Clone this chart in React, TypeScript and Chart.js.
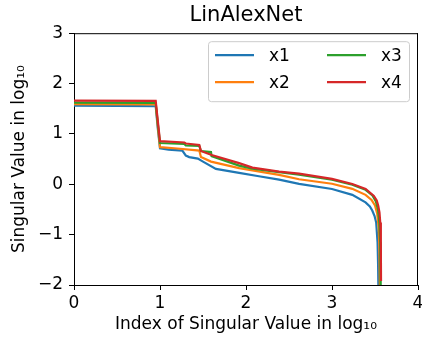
import React, { useEffect, useRef } from "react";
import { Chart, registerables } from "chart.js";

Chart.register(...registerables);

const chartTitle = "LinAlexNet";
const xAxisTitle = "Index of Singular Value in log\u2081\u2080";
const yAxisTitle = "Singular Value in log\u2081\u2080";
const seriesLabels = ["x1", "x2", "x3", "x4"];
const seriesColors = ["#1f77b4", "#ff7f0e", "#2ca02c", "#d62728"];

const x1X = [0, 0.5, 0.95, 0.975, 1.0, 1.1, 1.26, 1.3, 1.34, 1.44, 1.5, 1.65, 1.92, 2.15, 2.385, 2.617, 3.0, 3.236, 3.39, 3.44, 3.468, 3.495, 3.514, 3.53, 3.536, 3.54];
const x1Y = [1.56, 1.555, 1.55, 1.1, 0.717, 0.69, 0.67, 0.57, 0.54, 0.51, 0.45, 0.305, 0.226, 0.16, 0.093, 0.007, -0.093, -0.21, -0.36, -0.44, -0.52, -0.63, -0.76, -1.16, -1.6, -2.1];

const x2X = [0, 0.95, 0.975, 1.0, 1.2, 1.457, 1.476, 1.593, 1.92, 2.385, 2.617, 3.0, 3.236, 3.39, 3.46, 3.5, 3.525, 3.542, 3.55, 3.555, 3.558];
const x2Y = [1.59, 1.585, 1.15, 0.737, 0.71, 0.67, 0.54, 0.45, 0.32, 0.186, 0.1, 0.01, -0.09, -0.21, -0.31, -0.42, -0.58, -0.85, -1.2, -1.6, -2.05];

const x3X = [0, 0.95, 0.975, 1.0, 1.283, 1.3, 1.457, 1.476, 1.593, 1.6, 1.92, 2.075, 2.385, 2.617, 3.0, 3.236, 3.39, 3.47, 3.51, 3.535, 3.55, 3.56, 3.565, 3.567];
const x3Y = [1.62, 1.615, 1.2, 0.82, 0.8, 0.77, 0.76, 0.66, 0.64, 0.56, 0.37, 0.31, 0.24, 0.19, 0.09, -0.01, -0.11, -0.22, -0.34, -0.5, -0.75, -1.15, -1.6, -2.0];

const x4X = [0, 0.95, 0.975, 1.0, 1.283, 1.3, 1.457, 1.476, 1.6, 1.92, 2.075, 2.385, 2.617, 3.0, 3.236, 3.391, 3.487, 3.52, 3.537, 3.552, 3.561, 3.568, 3.57];
const x4Y = [1.66, 1.655, 1.25, 0.857, 0.83, 0.81, 0.78, 0.66, 0.58, 0.42, 0.33, 0.25, 0.21, 0.106, 0.007, -0.093, -0.23, -0.32, -0.42, -0.56, -0.76, -1.16, -1.92];

const seriesX = [x1X, x2X, x3X, x4X];
const seriesY = [x1Y, x2Y, x3Y, x4Y];

const xMin = 0, xMax = 4, yMin = -2, yMax = 3;

const FONT = "'DejaVu Sans', sans-serif";

const frameAndLegend = {
  id: "frameAndLegend",
  afterDatasetsDraw(chart: any) {
    const ctx = chart.ctx;
    const { left, right, top, bottom } = chart.chartArea;
    ctx.save();
    ctx.strokeStyle = "#000";
    ctx.lineWidth = 1;
    ctx.beginPath();
    ctx.moveTo(left, top + 0.5);
    ctx.lineTo(right, top + 0.5);
    ctx.moveTo(right - 0.5, top);
    ctx.lineTo(right - 0.5, bottom);
    ctx.stroke();

    const boxW = 201, boxH = 60;
    const bx = right - 9 - boxW;
    const by = top + 8;
    ctx.beginPath();
    (ctx as any).roundRect(bx + 0.5, by + 0.5, boxW, boxH, 3);
    ctx.fillStyle = "rgba(255,255,255,0.8)";
    ctx.fill();
    ctx.strokeStyle = "#cccccc";
    ctx.stroke();

    ctx.font = `17px ${FONT}`;
    ctx.textBaseline = "middle";
    ctx.textAlign = "left";
    chart.data.datasets.forEach((ds: any, i: number) => {
      const col = Math.floor(i / 2);
      const row = i % 2;
      const lx = bx + 7 + col * 112;
      const ly = by + 14 + row * 27;
      ctx.strokeStyle = ds.borderColor;
      ctx.lineWidth = 2.2;
      ctx.beginPath();
      ctx.moveTo(lx, ly);
      ctx.lineTo(lx + 39, ly);
      ctx.stroke();
      ctx.fillStyle = "#000";
      ctx.fillText(ds.label, lx + 54, ly + 1);
    });
    ctx.restore();
  },
};

const fmt = (v: any) => String(v).replace("-", "\u2212");

export default function App() {
  const ref = useRef<HTMLCanvasElement>(null);
  useEffect(() => {
    document.body.style.margin = "0";
    const datasets = seriesLabels.map((label, i) => ({
      label,
      data: seriesX[i].map((x, j) => ({ x, y: seriesY[i][j] })),
      borderColor: seriesColors[i],
      backgroundColor: seriesColors[i],
      borderWidth: 2.2,
      pointRadius: 0,
      tension: 0,
      fill: false,
      order: seriesLabels.length - i,
    }));
    const chart = new Chart(ref.current as HTMLCanvasElement, {
      type: "line",
      data: { datasets },
      plugins: [frameAndLegend],
      options: {
        animation: false,
        responsive: false,
        devicePixelRatio: 1,
        layout: { padding: { left: 0, right: 4, top: 0, bottom: 0 } },
        plugins: {
          legend: { display: false },
          tooltip: { enabled: false },
          title: {
            display: true,
            text: chartTitle,
            fullSize: false,
            color: "#000",
            font: { family: FONT, size: 21, weight: "normal" },
            padding: { top: 3, bottom: 5 },
          },
        },
        scales: {
          x: {
            type: "linear",
            min: xMin,
            max: xMax,
            afterFit: (s: any) => {
              s.height = 56;
              s.paddingLeft = 0;
              s.paddingRight = 0;
            },
            border: { display: true, color: "#000", width: 1 },
            grid: { display: true, drawOnChartArea: false, drawTicks: true, tickLength: 5, color: "#000" },
            ticks: {
              stepSize: 1,
              color: "#000",
              font: { family: FONT, size: 17 },
              padding: 3,
              maxRotation: 0,
              callback: (v: any) => fmt(v),
            },
            title: {
              display: true,
              text: xAxisTitle,
              color: "#000",
              font: { family: FONT, size: 17 },
              padding: { top: 0, bottom: 6 },
            },
          },
          y: {
            type: "linear",
            min: yMin,
            max: yMax,
            afterFit: (s: any) => {
              s.width = 74;
              s.paddingTop = 0;
              s.paddingBottom = 0;
            },
            border: { display: true, color: "#000", width: 1 },
            grid: { display: true, drawOnChartArea: false, drawTicks: true, tickLength: 5, color: "#000" },
            ticks: {
              stepSize: 1,
              color: "#000",
              font: { family: FONT, size: 17 },
              padding: 6,
              callback: (v: any) => fmt(v),
            },
            title: {
              display: true,
              text: yAxisTitle,
              color: "#000",
              font: { family: FONT, size: 17 },
              padding: { top: 9, bottom: 0 },
            },
          },
        },
      },
    } as any);
    return () => chart.destroy();
  }, []);
  return <canvas ref={ref} width={422} height={341} style={{ display: "block" }} />;
}
